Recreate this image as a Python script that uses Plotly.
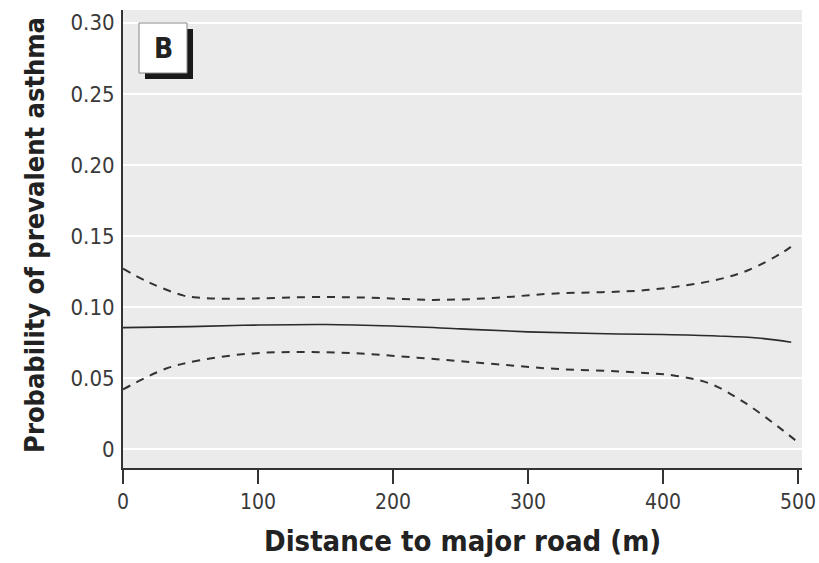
import plotly.graph_objects as go

# Data
x_mid = [0, 50, 100, 150, 200, 250, 300, 350, 400, 440, 470, 495]
y_mid = [0.0855, 0.0862, 0.0873, 0.0877, 0.0866, 0.0846, 0.0825, 0.0813, 0.0806, 0.0796, 0.0782, 0.0752]

x_up = [0, 20, 45, 57, 82, 143, 180, 230, 274, 316, 390, 440, 464, 489, 497]
y_up = [0.127, 0.117, 0.108, 0.1065, 0.1058, 0.107, 0.1066, 0.105, 0.1063, 0.1093, 0.1121, 0.1192, 0.1262, 0.1386, 0.144]

x_lo = [0, 32, 57, 94, 131, 168, 205, 242, 277, 316, 380, 410, 435, 460, 485, 498]
y_lo = [0.042, 0.0567, 0.0625, 0.0672, 0.0683, 0.0676, 0.0653, 0.0625, 0.0597, 0.0567, 0.0540, 0.0515, 0.0460, 0.0330, 0.0160, 0.0063]

x_ticks = [0, 100, 200, 300, 400, 500]
y_ticks = [0, 0.05, 0.10, 0.15, 0.20, 0.25, 0.30]
y_tick_labels = ["0", "0.05", "0.10", "0.15", "0.20", "0.25", "0.30"]

x_title = "Distance to major road (m)"
y_title = "Probability of prevalent asthma"
panel_label = "B"

FONT = "DejaVu Sans Condensed, Liberation Sans Narrow, sans-serif"
LINE = "#333333"

fig = go.Figure()
fig.add_trace(go.Scatter(x=x_up, y=y_up, mode="lines", line=dict(color=LINE, width=2, dash="8px,7px", shape="spline"), showlegend=False, hoverinfo="skip"))
fig.add_trace(go.Scatter(x=x_lo, y=y_lo, mode="lines", line=dict(color=LINE, width=2, dash="8px,7px", shape="spline"), showlegend=False, hoverinfo="skip"))
fig.add_trace(go.Scatter(x=x_mid, y=y_mid, mode="lines", line=dict(color="#2a2a2a", width=1.6, shape="spline"), showlegend=False, hoverinfo="skip"))

fig.update_layout(
    width=819, height=563,
    margin=dict(l=123, r=17, t=10, b=95),
    paper_bgcolor="white",
    plot_bgcolor="#ebebeb",
    font=dict(family=FONT, color="#333333", size=21),
    xaxis=dict(
        range=[0, 503], tickvals=x_ticks, ticktext=[str(v) for v in x_ticks],
        showgrid=False, zeroline=False, showline=True, linecolor="#333333", linewidth=2,
        ticks="outside", ticklen=14, tickwidth=2, tickcolor="#333333",
        tickfont=dict(size=21, color="#3a3a3a"), automargin=False,
    ),
    yaxis=dict(
        range=[-0.0133, 0.309], tickvals=y_ticks, ticktext=y_tick_labels,
        showgrid=True, gridcolor="white", gridwidth=2, zeroline=False,
        showline=True, linecolor="#333333", linewidth=2, ticks="",
        ticklabelstandoff=2, automargin=False,
        tickfont=dict(size=22, color="#3a3a3a"),
    ),
    shapes=[
        dict(type="rect", xref="paper", yref="paper", x0=0.0324, x1=0.1031, y0=0.8493, y1=0.9585,
             fillcolor="#1a1a1a", line=dict(width=0), layer="above"),
        dict(type="rect", xref="paper", yref="paper", x0=0.0236, x1=0.0943, y0=0.8624, y1=0.9716,
             fillcolor="white", line=dict(width=1, color="#888888"), layer="above"),
    ],
    annotations=[
        dict(text="<b>" + panel_label + "</b>", xref="paper", yref="paper", x=0.059, y=0.917, showarrow=False,
             font=dict(size=28, color="#222222", family=FONT), xanchor="center", yanchor="middle"),
        dict(text="<b>" + x_title + "</b>", xref="paper", yref="paper", x=0.5, y=-0.159, showarrow=False,
             font=dict(size=29, color="#222222", family=FONT), xanchor="center", yanchor="middle"),
        dict(text="<b>" + y_title + "</b>", xref="paper", yref="paper", x=-0.1296, y=0.509, showarrow=False,
             textangle=-90, font=dict(size=27, color="#222222", family=FONT), xanchor="center", yanchor="middle"),
    ],
)

fig.write_html("out.html", config={"displayModeBar": False},
               post_script="document.body.style.margin='0';document.body.style.overflow='hidden';")
